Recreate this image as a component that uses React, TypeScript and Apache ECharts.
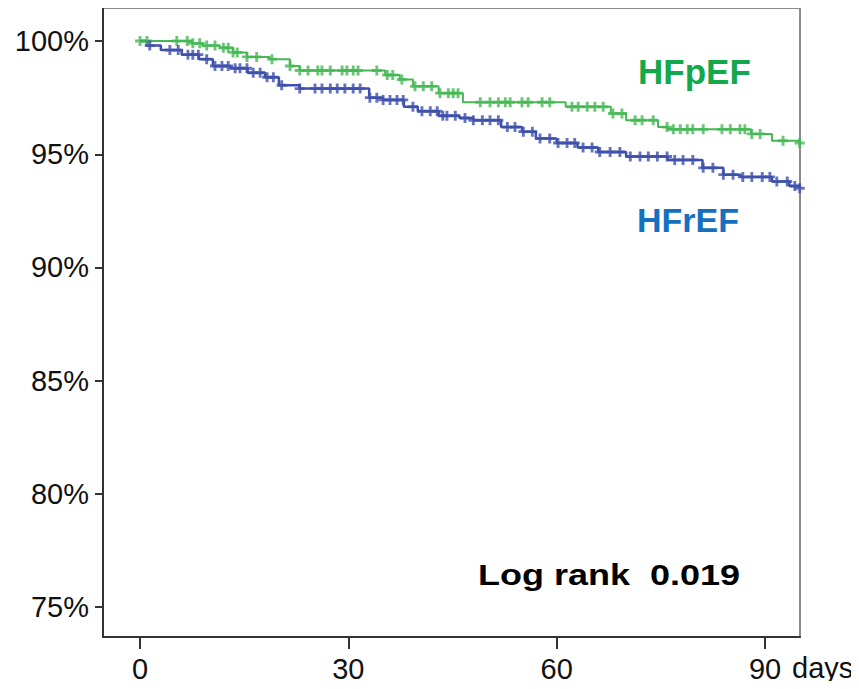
import React, { useEffect, useRef } from "react";
import * as echarts from "echarts";

// Kaplan-Meier survival steps [day, survival %]
const hfpefSurvival: [number, number][] = [
  [0, 100], [7.5, 99.9], [9, 99.8], [11.5, 99.7], [13.4, 99.5], [15.4, 99.3],
  [18.7, 99.2], [21.6, 98.9], [23, 98.7], [35.3, 98.5], [37.4, 98.3], [39.3, 98.0],
  [43, 97.7], [46.5, 97.3], [61.3, 97.1], [67.8, 96.8], [70, 96.5], [74.6, 96.2],
  [76, 96.1], [88, 95.9], [91, 95.6], [95, 95.5],
];
const hfrefSurvival: [number, number][] = [
  [0, 100], [1, 99.8], [3, 99.6], [6, 99.4], [8.5, 99.2], [10.5, 98.9], [13, 98.8],
  [15.5, 98.6], [18, 98.4], [20, 98.05], [23, 97.9], [33, 97.5], [35, 97.4],
  [38, 97.1], [40, 96.9], [43, 96.7], [46, 96.6], [48, 96.5], [52, 96.2], [55, 96.0],
  [57, 95.7], [60, 95.5], [63, 95.3], [66, 95.1], [70, 94.9], [76, 94.75], [81, 94.4],
  [84, 94.1], [86.5, 94.0], [91, 93.8], [93.5, 93.6], [95, 93.5],
];

// Censoring times (days)
const hfpefCensored = [
  0, 1.0, 5.3, 6.8, 7.6, 8.6, 9.6, 10.8, 12.0, 12.7, 13.4, 14.0, 15.4, 16.8, 19.0,
  21.6, 23.0, 24.2, 25.6, 26.2, 27.4, 29.1, 29.8, 30.7, 31.4, 34.1, 35.6, 36.4, 37.7,
  39.6, 40.8, 42.0, 43.2, 44.4, 45.1, 45.8, 49.0, 50.4, 51.6, 52.6, 53.3, 55.0, 55.9,
  57.9, 59.0, 62.2, 63.1, 64.4, 65.5, 66.7, 68.1, 69.4, 71.3, 72.3, 73.9, 75.9, 76.8,
  77.8, 78.8, 79.6, 81.1, 83.8, 85.0, 86.4, 87.1, 88.1, 89.3, 92.6, 95,
];
const hfrefCensored = [
  1.4, 4.3, 5.5, 6.9, 7.6, 8.4, 9.6, 10.8, 11.8, 12.7, 13.7, 14.4, 15.4, 16.3, 17.3,
  18.3, 19.2, 20.4, 23.0, 25.2, 26.2, 27.4, 28.4, 29.5, 30.7, 31.7, 33.1, 34.1, 35.0,
  36.0, 37.0, 37.9, 39.3, 40.6, 41.8, 42.8, 43.6, 44.2, 45.4, 46.8, 48.0, 49.3, 50.4,
  51.6, 52.9, 54.0, 55.2, 56.5, 57.6, 59.0, 60.2, 61.5, 62.6, 63.8, 65.1, 66.2, 67.7,
  69.1, 70.6, 72.0, 73.2, 74.5, 75.9, 77.0, 78.2, 79.6, 81.1, 82.5, 84.0, 85.4, 86.8,
  88.1, 89.6, 90.7, 91.7, 93.2, 94.3, 95,
];

const xTicks = [0, 30, 60, 90];
const yTicks = [75, 80, 85, 90, 95, 100];

const groupNames = ["HFpEF", "HFrEF"];
const lineColors = ["#45b854", "#3e50ab"];
const labelColors = ["#14a84c", "#1670c0"];
const logRankText = "Log rank  0.019";

function survivalAt(steps: [number, number][], t: number): number {
  let v = steps[0][1];
  for (const [d, s] of steps) {
    if (d <= t) v = s;
    else break;
  }
  return v;
}

const plusSymbol = "path://M3.2,0H5.8V3.2H9V5.8H5.8V9H3.2V5.8H0V3.2H3.2Z";
const FONT = "'Liberation Sans', Arial, Helvetica, sans-serif";

export default function App() {
  const ref = useRef<HTMLDivElement>(null);
  useEffect(() => {
    if (!ref.current) return;
    const chart = echarts.init(ref.current, null, { renderer: "svg" });
    const survivals = [hfpefSurvival, hfrefSurvival];
    const censors = [hfpefCensored, hfrefCensored];
    const series: any[] = [];
    survivals.forEach((s, i) => {
      series.push({
        type: "line",
        name: groupNames[i],
        step: "end",
        data: s,
        showSymbol: false,
        symbol: "none",
        lineStyle: { color: lineColors[i], width: i === 0 ? 2 : 2.5 },
        z: 2,
      });
      series.push({
        type: "scatter",
        name: groupNames[i] + " censored",
        data: censors[i].map((d) => [d, survivalAt(s, d)]),
        symbol: plusSymbol,
        symbolSize: 10,
        itemStyle: { color: lineColors[i] },
        z: 3,
      });
    });
    chart.setOption({
      animation: false,
      textStyle: { fontFamily: FONT },
      grid: {
        left: 103,
        top: 8,
        width: 697,
        height: 629,
        show: true,
        borderColor: "#8c8c8c",
        borderWidth: 2,
        backgroundColor: "transparent",
      },
      xAxis: {
        type: "value",
        min: -5.33,
        max: 95.04,
        splitLine: { show: false },
        axisLine: { onZero: false, lineStyle: { color: "#333", width: 2 } },
        axisTick: { customValues: xTicks, length: 12, lineStyle: { color: "#333", width: 2 } },
        axisLabel: {
          customValues: xTicks,
          color: "#111",
          fontSize: 29,
          fontFamily: FONT,
          margin: 17,
        },
      },
      yAxis: {
        type: "value",
        min: 73.68,
        max: 101.46,
        splitLine: { show: false },
        axisLine: { onZero: false, lineStyle: { color: "#333", width: 2 } },
        axisTick: { customValues: yTicks, length: 8, lineStyle: { color: "#333", width: 2 } },
        axisLabel: {
          customValues: yTicks,
          color: "#111",
          fontSize: 29,
          fontFamily: FONT,
          margin: 14,
          formatter: (v: number) => `${v}%`,
        },
      },
      graphic: [
        {
          type: "text",
          left: 792,
          top: 653,
          style: { text: "days", fontSize: 29, fontFamily: FONT, fill: "#111" },
        },
        {
          type: "text",
          x: 638,
          y: 71,
          style: {
            text: groupNames[0],
            fontSize: 35,
            fontWeight: "bold",
            fontFamily: FONT,
            fill: labelColors[0],
            verticalAlign: "middle",
          },
        },
        {
          type: "text",
          x: 637,
          y: 220,
          style: {
            text: groupNames[1],
            fontSize: 34,
            fontWeight: "bold",
            fontFamily: FONT,
            fill: labelColors[1],
            verticalAlign: "middle",
          },
        },
        {
          type: "text",
          x: 478,
          y: 575,
          scaleX: 1.2,
          style: {
            text: logRankText,
            fontSize: 30,
            fontWeight: "bold",
            fontFamily: FONT,
            fill: "#000",
            verticalAlign: "middle",
          },
        },
      ],
      series,
    });
    return () => chart.dispose();
  }, []);
  return <div ref={ref} style={{ width: 859, height: 689, margin: -8 }} />;
}
